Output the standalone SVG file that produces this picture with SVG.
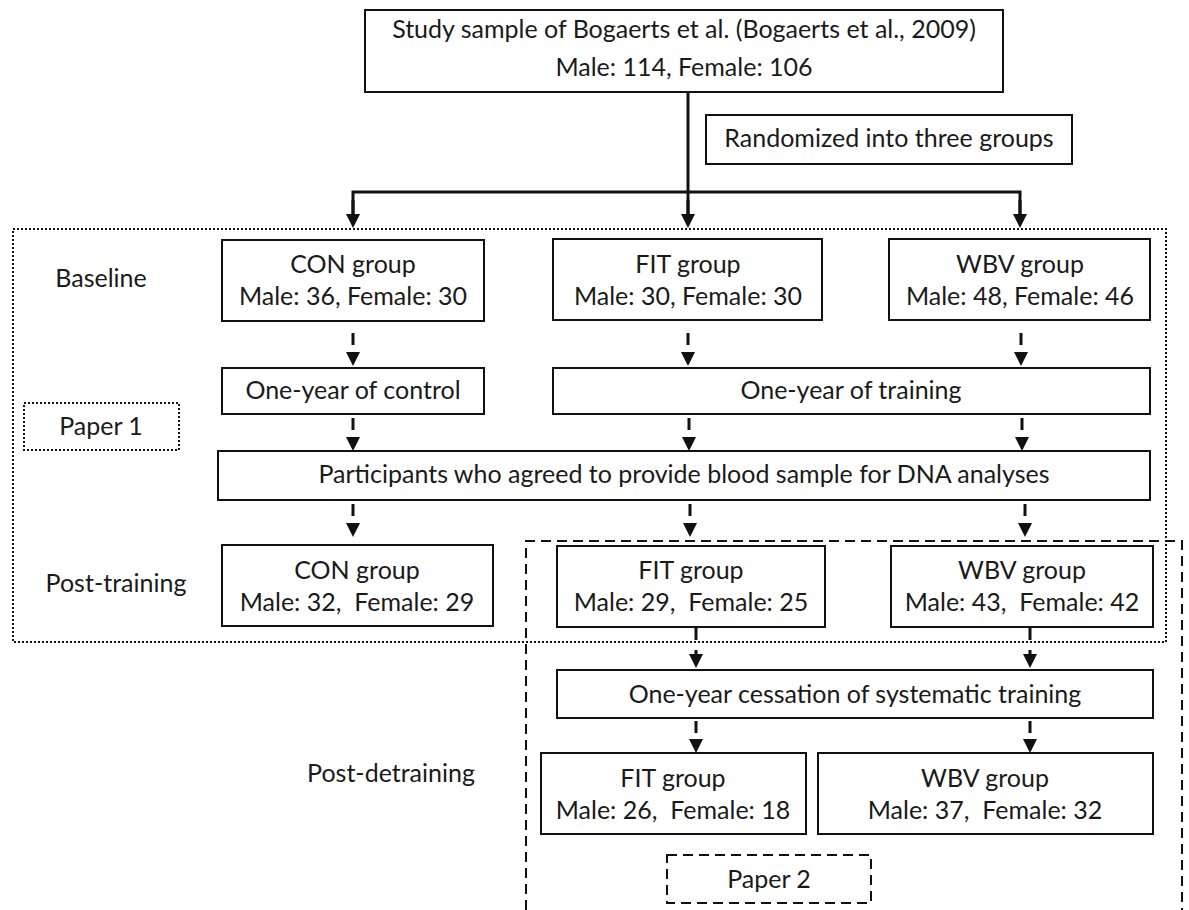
<svg xmlns="http://www.w3.org/2000/svg" width="1189" height="910" viewBox="0 0 1189 910">
<style>
.box{fill:#fff;stroke:#111;stroke-width:2}
.t{font-family:Lato,"Liberation Sans",sans-serif;font-size:25px;fill:#1a1a1a;text-anchor:middle;white-space:pre}
.solid{stroke:#111;stroke-width:3;fill:none}
.dash{stroke:#111;stroke-width:3;fill:none;stroke-dasharray:12 7}
.dotted{fill:none;stroke:#111;stroke-width:2;stroke-dasharray:2 2}
.dashed{fill:none;stroke:#111;stroke-width:2;stroke-dasharray:10 6}
</style>
<defs>
<marker id="ah2" viewBox="0 0 14 14" refX="0" refY="7" markerWidth="14" markerHeight="14" markerUnits="userSpaceOnUse" orient="auto">
<path d="M0,0 L14,7 L0,14 Z" fill="#111"/>
</marker>
</defs>
<g id="regions">
<rect id="region-paper1" class="dotted" x="13" y="229" width="1153" height="413"/>
<path id="region-paper2" class="dashed" d="M526,910 L526,541 L1182,541 L1182,910"/>
</g>
<g id="connectors">
<path class="solid" d="M688,92 L688,214"/>
<path class="solid" d="M353,214 L353,192 L1020,192 L1020,214"/>
<line class="solid" x1="353" y1="200" x2="353" y2="214" marker-end="url(#ah2)"/>
<line class="solid" x1="688" y1="200" x2="688" y2="214" marker-end="url(#ah2)"/>
<line class="solid" x1="1020" y1="200" x2="1020" y2="214" marker-end="url(#ah2)"/>
<line class="dash" x1="353" y1="333" x2="353" y2="352" marker-end="url(#ah2)"/>
<line class="dash" x1="688" y1="333" x2="688" y2="352" marker-end="url(#ah2)"/>
<line class="dash" x1="1021" y1="333" x2="1021" y2="352" marker-end="url(#ah2)"/>
<line class="dash" x1="353" y1="418" x2="353" y2="437" marker-end="url(#ah2)"/>
<line class="dash" x1="689" y1="418" x2="689" y2="437" marker-end="url(#ah2)"/>
<line class="dash" x1="1022" y1="418" x2="1022" y2="437" marker-end="url(#ah2)"/>
<line class="dash" x1="353" y1="504" x2="353" y2="523" marker-end="url(#ah2)"/>
<line class="dash" x1="690" y1="504" x2="690" y2="523" marker-end="url(#ah2)"/>
<line class="dash" x1="1025" y1="504" x2="1025" y2="523" marker-end="url(#ah2)"/>
<line class="solid" x1="696" y1="627" x2="696" y2="654" style="stroke-dasharray:13 10" marker-end="url(#ah2)"/>
<line class="solid" x1="1030" y1="627" x2="1030" y2="654" style="stroke-dasharray:13 10" marker-end="url(#ah2)"/>
<line class="dash" x1="696" y1="721" x2="696" y2="739" marker-end="url(#ah2)"/>
<line class="dash" x1="1030" y1="721" x2="1030" y2="739" marker-end="url(#ah2)"/>
</g>
<g id="n-study"><rect class="box" x="365" y="10" width="638" height="82"/>
<text class="t" x="684" y="38">Study sample of Bogaerts et al. (Bogaerts et al., 2009)</text>
<text class="t" x="684" y="76">Male: 114, Female: 106</text></g>
<g id="n-random"><rect class="box" x="706" y="115" width="366" height="49"/>
<text class="t" x="889" y="147">Randomized into three groups</text></g>
<g id="l-baseline"><text class="t" x="101" y="287">Baseline</text></g>
<g id="n-con1"><rect class="box" x="222" y="240" width="262" height="81"/>
<text class="t" x="353" y="273">CON group</text><text class="t" x="353" y="305">Male: 36, Female: 30</text></g>
<g id="n-fit1"><rect class="box" x="553" y="239" width="269" height="81"/>
<text class="t" x="688" y="273">FIT group</text><text class="t" x="688" y="305">Male: 30, Female: 30</text></g>
<g id="n-wbv1"><rect class="box" x="889" y="239" width="261" height="81"/>
<text class="t" x="1020" y="273">WBV group</text><text class="t" x="1020" y="305">Male: 48, Female: 46</text></g>
<g id="n-control"><rect class="box" x="222" y="368" width="262" height="46"/>
<text class="t" x="353" y="399">One-year of control</text></g>
<g id="n-training"><rect class="box" x="553" y="368" width="597" height="46"/>
<text class="t" x="851" y="399">One-year of training</text></g>
<g id="n-paper1"><rect class="dotted" x="24" y="403" width="155" height="47"/>
<text class="t" x="101" y="435">Paper 1</text></g>
<g id="n-participants"><rect class="box" x="218" y="451" width="932" height="49"/>
<text class="t" x="684" y="483">Participants who agreed to provide blood sample for DNA analyses</text></g>
<g id="l-post"><text class="t" x="116" y="592">Post-training</text></g>
<g id="n-con2"><rect class="box" x="222" y="545" width="271" height="81"/>
<text class="t" x="357" y="579">CON group</text><text class="t" x="357" y="611" xml:space="preserve">Male: 32,  Female: 29</text></g>
<g id="n-fit2"><rect class="box" x="557" y="546" width="268" height="81"/>
<text class="t" x="691" y="579">FIT group</text><text class="t" x="691" y="611" xml:space="preserve">Male: 29,  Female: 25</text></g>
<g id="n-wbv2"><rect class="box" x="891" y="546" width="262" height="81"/>
<text class="t" x="1022" y="579">WBV group</text><text class="t" x="1022" y="611" xml:space="preserve">Male: 43,  Female: 42</text></g>
<g id="n-cessation"><rect class="box" x="557" y="670" width="596" height="48"/>
<text class="t" x="855" y="703">One-year cessation of systematic training</text></g>
<g id="l-detrain"><text class="t" x="391" y="782">Post-detraining</text></g>
<g id="n-fit3"><rect class="box" x="541" y="753" width="265" height="81"/>
<text class="t" x="673" y="787">FIT group</text><text class="t" x="673" y="819" xml:space="preserve">Male: 26,  Female: 18</text></g>
<g id="n-wbv3"><rect class="box" x="818" y="753" width="335" height="81"/>
<text class="t" x="985" y="787">WBV group</text><text class="t" x="985" y="819" xml:space="preserve">Male: 37,  Female: 32</text></g>
<g id="n-paper2"><rect class="dashed" x="667" y="855" width="204" height="48"/>
<text class="t" x="769" y="888">Paper 2</text></g>
</svg>
